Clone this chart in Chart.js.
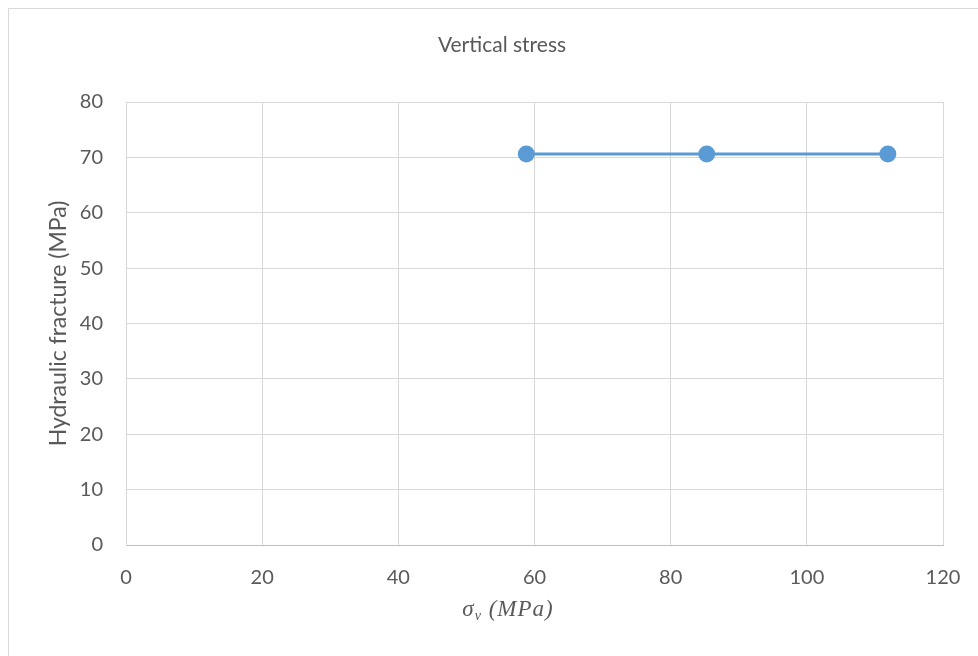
<!DOCTYPE html>
<html>
<head>
<meta charset="utf-8">
<script src="https://cdn.jsdelivr.net/npm/chart.js@4"></script>
<style>
  body { margin: 0; background: #fff; overflow: hidden; }
  #frame { position: absolute; left: 8px; top: 8px; width: 1000px; height: 700px; border: 1px solid #d9d9d9; }
  #wrap { position: absolute; left: 0; top: 0; width: 978px; height: 656px; }
</style>
</head>
<body>
<div id="frame"></div>
<div id="wrap"><canvas id="stressChart"></canvas></div>
<script>
    // values
    const sigmaV = [58.8, 85.3, 111.9];
    const fracture = [70.6, 70.6, 70.6];
    const chartTitle = 'Vertical stress';
    const yTitle = 'Hydraulic fracture (MPa)';

    const textColor = '#595959';
    const gridColor = '#d9d9d9';

    // title and the sigma_v axis label, drawn as text on the canvas
    const labelsPlugin = {
        id: 'labels',
        afterDraw(chart) {
            const ctx = chart.ctx;
            ctx.save();
            ctx.fillStyle = textColor;
            ctx.textBaseline = 'middle';
            ctx.textAlign = 'center';
            ctx.font = '21px Lato';
            ctx.fillText(chartTitle, 502, 45);

            // sigma with subscript v, then (MPa)
            const y = 610;
            const big = 'italic 23px "Liberation Serif"';
            const small = 'italic 14px "Liberation Serif"';
            ctx.textAlign = 'left';
            ctx.letterSpacing = '1px';
            ctx.font = big;
            const w1 = ctx.measureText('\u03c3').width;
            const w3 = ctx.measureText(' (MPa)').width;
            ctx.font = small;
            const w2 = ctx.measureText('v').width;
            let x = 508 - (w1 + w2 + w3) / 2;
            ctx.font = big;
            ctx.fillText('\u03c3', x, y);
            x += w1;
            ctx.font = small;
            ctx.fillText('v', x, y + 6);
            x += w2;
            ctx.font = big;
            ctx.fillText(' (MPa)', x, y);
            ctx.restore();
        }
    };

    const ctx = document.getElementById('stressChart').getContext('2d');
    new Chart(ctx, {
        type: 'scatter',
        data: {
            datasets: [{
                label: chartTitle,
                data: sigmaV.map((v, i) => ({ x: v, y: fracture[i] })),
                showLine: true,
                borderColor: '#5b9bd5',
                backgroundColor: '#5b9bd5',
                borderWidth: 3,
                pointRadius: 7,
                pointHoverRadius: 7
            }]
        },
        options: {
            responsive: true,
            maintainAspectRatio: false,
            animation: false,
            layout: { padding: { left: 0, right: 35, top: 102, bottom: 0 } },
            plugins: {
                legend: { display: false },
                title: { display: false },
                tooltip: { enabled: false }
            },
            scales: {
                x: {
                    type: 'linear',
                    min: 0,
                    max: 120,
                    ticks: { stepSize: 20, color: textColor, font: { family: 'Lato', size: 20 }, padding: 21 },
                    grid: { color: gridColor, drawTicks: false },
                    border: { color: '#bfbfbf' },
                    afterFit: s => { s.height = 111; s.paddingLeft = 0; s.paddingRight = 0; }
                },
                y: {
                    min: 0,
                    max: 80,
                    ticks: { stepSize: 10, color: textColor, font: { family: 'Lato', size: 20 }, padding: 23 },
                    grid: { color: gridColor, drawTicks: false },
                    border: { color: gridColor },
                    title: {
                        display: true,
                        text: yTitle,
                        color: textColor,
                        font: { family: 'Lato', size: 23 },
                        padding: { top: 45, bottom: 0 }
                    },
                    afterFit: s => { s.width = 126; s.paddingTop = 0; s.paddingBottom = 0; }
                }
            }
        },
        plugins: [labelsPlugin]
    });
</script>
</body>
</html>
